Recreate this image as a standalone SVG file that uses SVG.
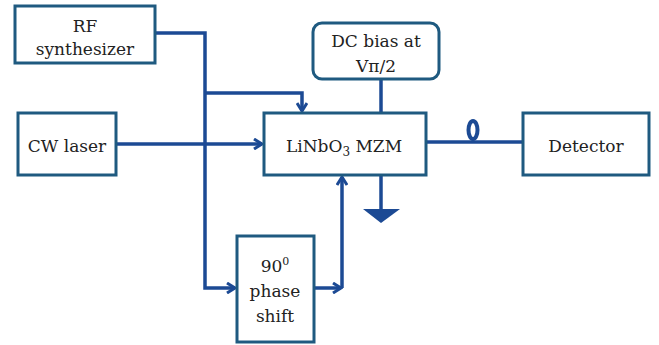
<svg xmlns="http://www.w3.org/2000/svg" width="659" height="345" viewBox="0 0 659 345">
<style>
.box{fill:#fff;stroke:#1f5a80;stroke-width:3}
.ln{fill:none;stroke:#1c4a94;stroke-width:3.5}
.t{font-family:"DejaVu Serif","Liberation Serif",serif;font-size:17px;fill:#222;text-anchor:middle}
</style>
<defs>
<marker id="ah" viewBox="0 0 12 12" refX="10" refY="6" markerWidth="12" markerHeight="12" markerUnits="userSpaceOnUse" orient="auto">
<path d="M2,1 L10,6 L2,11" fill="none" stroke="#1c4a94" stroke-width="3"/>
</marker>
</defs>
<rect width="659" height="345" fill="#fff"/>
<g id="connectors">
<path class="ln" d="M155,33 H205 V288 H235" marker-end="url(#ah)"/>
<path class="ln" d="M205,93 H302 V111" marker-end="url(#ah)"/>
<path class="ln" d="M116,144 H262" marker-end="url(#ah)"/>
<path class="ln" d="M314,288 H341" marker-end="url(#ah)"/>
<path class="ln" d="M342,288 V177" marker-end="url(#ah)"/>
<path class="ln" d="M381,79 V113"/>
<path class="ln" d="M426,142 H523"/>
<ellipse cx="473" cy="130" rx="4.5" ry="9" fill="none" stroke="#1c4a94" stroke-width="4"/>
<path class="ln" d="M381,175 V210"/>
<path d="M363,209 H400 L381,223 Z" fill="#1c4a94"/>
</g>
<g id="rf"><rect class="box" x="15" y="6" width="140" height="57"/><text class="t" x="85" y="32">RF</text><text class="t" x="85" y="55">synthesizer</text></g>
<g id="cw"><rect class="box" x="18" y="113" width="98" height="62"/><text class="t" x="67" y="152">CW laser</text></g>
<g id="mzm"><rect class="box" x="264" y="113" width="162" height="62"/><text class="t" x="344" y="152">LiNbO<tspan font-size="12" dy="4">3</tspan><tspan dy="-4"> MZM</tspan></text></g>
<g id="dc"><rect class="box" x="313" y="23" width="126" height="56" rx="9"/><text class="t" x="376" y="47">DC bias at</text><text class="t" x="376" y="72">Vπ/2</text></g>
<g id="det"><rect class="box" x="523" y="113" width="126" height="62"/><text class="t" x="586" y="152">Detector</text></g>
<g id="ps"><rect class="box" x="237" y="236" width="77" height="106"/><text class="t" x="275" y="272">90<tspan font-size="11" dy="-7">0</tspan></text><text class="t" x="275" y="297">phase</text><text class="t" x="275" y="322">shift</text></g>
</svg>
